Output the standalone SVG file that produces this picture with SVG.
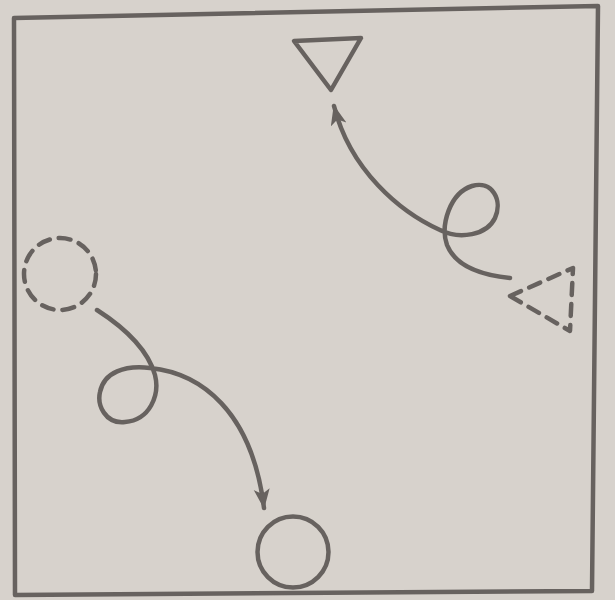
<svg xmlns="http://www.w3.org/2000/svg" width="615" height="600" viewBox="0 0 615 600">
  <style>
    .ln { fill: none; stroke: #67625f; stroke-width: 4.5; stroke-linecap: round; stroke-linejoin: round; }
    .dash { stroke-dasharray: 12 9; }
  </style>
  <defs>
    <marker id="arrow" markerUnits="userSpaceOnUse" markerWidth="24" markerHeight="24" refX="19" refY="8" orient="auto">
      <path d="M0,0 L20,8 L0,16 L5,8 Z" fill="#67625f"/>
    </marker>
  </defs>
  <rect width="615" height="600" fill="#d7d2cc"/>
  <g id="frame">
    <path class="ln" d="M14,18 L598,6 L592,591 L15,595 Z"/>
  </g>
  <g id="triangle-top">
    <path class="ln" d="M294,41 L361,38 L331,90 Z"/>
  </g>
  <g id="triangle-dashed">
    <path class="ln dash" d="M510,296 L573,268 L570,331 Z"/>
  </g>
  <g id="circle-dashed">
    <circle class="ln dash" cx="60" cy="274" r="36"/>
  </g>
  <g id="circle-bottom">
    <circle class="ln" cx="293" cy="552" r="35.5"/>
  </g>
  <g id="connectors">
    <path class="ln" marker-end="url(#arrow)" d="M510,278 C480,275 455,265 447,245 C440,225 450,193 472,186 C492,180 503,200 495,218 C487,235 460,240 440,230 C400,212 350,170 334,106"/>
    <path class="ln" marker-end="url(#arrow)" d="M97,310 C125,328 148,350 155,375 C160,395 150,420 125,422 C105,424 97,405 100,392 C104,372 125,365 150,368 C200,373 252,410 264,508"/>
  </g>
</svg>
